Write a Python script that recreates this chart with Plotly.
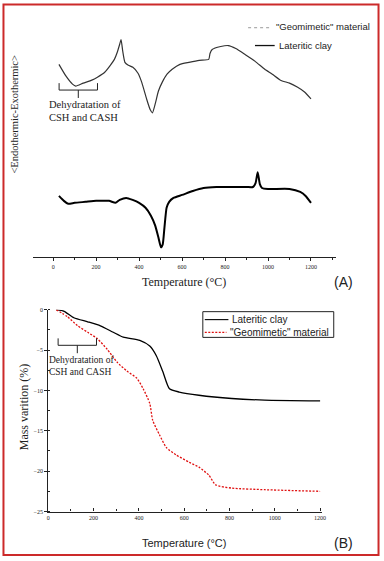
import plotly.graph_objects as go

W, H = 384, 561

# ---------------- DATA ----------------
# Panel A : DTA (arbitrary units)
geo_dta_T = [27, 60, 90, 105, 140, 180, 206, 240, 266, 285, 298, 308, 316, 324, 334, 350, 371, 395, 412,
             435, 452, 462, 475, 490, 508, 530, 554, 590, 632, 680, 724, 730, 740, 780, 815, 850, 893,
             940, 985, 1020, 1058, 1100, 1136, 1170, 1200]
geo_dta_v = [19.5, 18.3, 17.5, 17.3, 17.6, 17.9, 18.2, 18.7, 19.4, 20.0, 20.7, 21.4, 22.0, 20.8, 19.7,
             19.4, 19.2, 18.6, 17.7, 16.0, 14.9, 14.6, 15.5, 16.8, 17.7, 18.5, 19.0, 19.5, 19.7, 19.9,
             20.0, 20.6, 21.0, 21.3, 21.4, 21.1, 20.5, 19.8, 19.0, 18.5, 17.9, 17.6, 17.2, 16.7, 16.0]

clay_dta_T = [27, 50, 70, 100, 150, 200, 260, 290, 310, 340, 370, 400, 430, 455, 475, 490, 502, 510, 518,
              528, 540, 560, 600, 650, 700, 760, 800, 900, 930, 942, 952, 962, 972, 1000, 1100, 1150,
              1175, 1200]
clay_dta_v = [6.2, 5.7, 5.4, 5.5, 5.6, 5.7, 5.7, 5.5, 5.8, 6.0, 5.8, 5.5, 5.0, 4.2, 3.2, 2.0, 1.0, 1.3,
              3.0, 5.0, 5.6, 6.0, 6.3, 6.7, 7.0, 7.1, 7.1, 7.1, 7.1, 7.5, 8.6, 7.4, 7.0, 6.9, 6.9, 6.6,
              6.2, 5.5]

# Panel B : TGA mass variation (%)
clay_tg_T = [35, 70, 113, 174, 230, 287, 331, 404, 448, 477, 506, 535, 578, 665, 810, 955, 1200]
clay_tg_v = [0, -0.2, -1.0, -1.5, -2.0, -2.8, -3.4, -3.8, -4.5, -5.7, -7.7, -9.8, -10.2, -10.6, -11.0,
             -11.2, -11.3]

geo_tg_T = [35, 86, 130, 174, 217, 260, 304, 347, 391, 419, 448, 461, 491, 522, 565, 622, 665, 709,
            739, 810, 957, 1200]
geo_tg_v = [0, -0.9, -2.0, -2.8, -3.6, -4.9, -6.5, -7.6, -8.5, -9.8, -11.6, -13.7, -15.5, -17.1, -18.0,
            -18.9, -19.5, -20.5, -21.7, -22.1, -22.3, -22.5]

xticks_A = [0, 200, 400, 600, 800, 1000, 1200]
xticks_B = [0, 200, 400, 600, 800, 1000, 1200]
yticks_B = [0, -5, -10, -15, -20, -25]

geo_name = '"Geomimetic" material'
clay_name = "Lateritic clay"


def X(p):
    return p / W


def Y(p):
    return 1 - p / H


SERIF = "Liberation Serif, Times New Roman, serif"
SANS = "Liberation Sans, Arial, sans-serif"

fig = go.Figure()

fig.add_trace(go.Scatter(x=geo_dta_T, y=geo_dta_v, mode="lines", name=geo_name,
                         line=dict(color="#333333", width=1.2, shape="spline", smoothing=0.5),
                         xaxis="x", yaxis="y"))
fig.add_trace(go.Scatter(x=clay_dta_T, y=clay_dta_v, mode="lines", name=clay_name,
                         line=dict(color="#000000", width=2, shape="spline", smoothing=0.5),
                         xaxis="x", yaxis="y"))
fig.add_trace(go.Scatter(x=clay_tg_T, y=clay_tg_v, mode="lines", name=clay_name,
                         line=dict(color="#000000", width=1.3, shape="spline", smoothing=0.6),
                         xaxis="x2", yaxis="y2"))
fig.add_trace(go.Scatter(x=geo_tg_T, y=geo_tg_v, mode="lines", name=geo_name,
                         line=dict(color="#e01010", width=1.3, dash="2px,1.5px", shape="spline",
                                   smoothing=0.6),
                         xaxis="x2", yaxis="y2"))

tickfont = dict(family=SERIF, size=6, color="#222")

fig.update_layout(
    width=W, height=H,
    margin=dict(l=0, r=0, t=0, b=0),
    paper_bgcolor="white", plot_bgcolor="white",
    showlegend=False,
    xaxis=dict(domain=[X(31), X(339)], range=[-96, 1315], anchor="y",
               showline=True, linecolor="#222", linewidth=1.2,
               tickvals=xticks_A, ticks="outside", ticklen=3, tickcolor="#222",
               minor=dict(dtick=100, tick0=0, ticks="outside", ticklen=2, tickcolor="#222"),
               tickfont=tickfont, showgrid=False, zeroline=False),
    yaxis=dict(domain=[Y(257), Y(20)], range=[0, 23.7], anchor="x",
               visible=False, showgrid=False, zeroline=False),
    xaxis2=dict(domain=[X(47), X(325)], range=[0, 1208], anchor="y2",
                showline=True, linecolor="#222", linewidth=1.2,
                tickvals=xticks_B, ticks="inside", ticklen=3, tickcolor="#222",
                minor=dict(dtick=100, tick0=0, ticks="inside", ticklen=2, tickcolor="#222"),
                tickfont=tickfont, showgrid=False, zeroline=False),
    yaxis2=dict(domain=[Y(514), Y(310)], range=[-25, 0], anchor="x2",
                showline=True, linecolor="#222", linewidth=1.2,
                tickvals=yticks_B, ticks="outside", ticklen=3, tickcolor="#222",
                minor=dict(dtick=2.5, tick0=0, ticks="inside", ticklen=2, tickcolor="#222"),
                tickfont=tickfont, showgrid=False, zeroline=False),
)

ann = []


def text(x, y, s, size, family, xanchor="center", angle=0, color="#222"):
    ann.append(dict(x=X(x), y=Y(y), xref="paper", yref="paper", text=s, showarrow=False,
                    xanchor=xanchor, yanchor="middle", textangle=angle,
                    font=dict(size=size, family=family, color=color)))


# Panel A texts
text(13, 112, "&lt;Endothermic-Exothermic&gt;", 10.5, SERIF, angle=-90)
text(185, 282, "Temperature (°C)", 12, SERIF)
text(347, 282, "(A)", 14, SANS)
text(46, 103, "Dehydratation of", 10.5, SERIF, xanchor="left")
text(46, 116, "CSH and CASH", 10.5, SERIF, xanchor="left")
text(276, 24, geo_name, 9.5, SANS, xanchor="left")
text(279, 43, clay_name, 9.5, SANS, xanchor="left")

# Panel B texts
text(22, 408, "Mass varition (%)", 12, SERIF, angle=-90)
text(185, 546, "Temperature (°C)", 11, SANS)
text(347, 546, "(B)", 14, SANS)
text(46, 361, "Dehydratation of", 9.5, SERIF, xanchor="left")
text(46, 373, "CSH and CASH", 9.5, SERIF, xanchor="left")
text(232, 320, clay_name, 10, SANS, xanchor="left")
text(230, 333, geo_name, 10, SANS, xanchor="left")

fig.update_layout(annotations=ann)

shapes = []


def seg(x0, y0, x1, y1, color="#222", width=1, dash="solid"):
    shapes.append(dict(type="line", xref="paper", yref="paper", x0=X(x0), y0=Y(y0), x1=X(x1), y1=Y(y1),
                       line=dict(color=color, width=width, dash=dash)))


def brace(xl, xr, ytop, ybar, ystem):
    xm = (xl + xr) / 2
    path = (f"M {X(xl)} {Y(ytop)} L {X(xl)} {Y(ybar)} L {X(xr)} {Y(ybar)} L {X(xr)} {Y(ytop)} "
            f"M {X(xm)} {Y(ybar)} L {X(xm)} {Y(ystem)}")
    shapes.append(dict(type="path", xref="paper", yref="paper", path=path,
                       line=dict(color="#222", width=1)))


brace(58, 97, 81, 88, 96)
brace(57, 96, 339, 346, 354)

# legend A
seg(250, 25, 274, 25, color="#999", width=1, dash="dot")
seg(257, 43, 277, 43, color="#111", width=1.3)
# legend B
shapes.append(dict(type="rect", xref="paper", yref="paper", x0=X(204), y0=Y(338), x1=X(337), y1=Y(312),
                   line=dict(color="#222", width=1), fillcolor="rgba(0,0,0,0)"))
seg(206, 320, 230, 320, color="#111", width=1.2)
seg(206, 333, 228, 333, color="#e01010", width=1.2, dash="2px,1.5px")

# page border
shapes.append(dict(type="rect", xref="paper", yref="paper", x0=X(1.5), y0=Y(558), x1=X(382.5), y1=Y(1.5),
                   line=dict(color="#cc2a2a", width=2), fillcolor="rgba(0,0,0,0)"))

fig.update_layout(shapes=shapes)

fig.write_html("out.html", config={"displayModeBar": False},
               post_script="document.body.style.margin='0';document.body.style.overflow='hidden';")
